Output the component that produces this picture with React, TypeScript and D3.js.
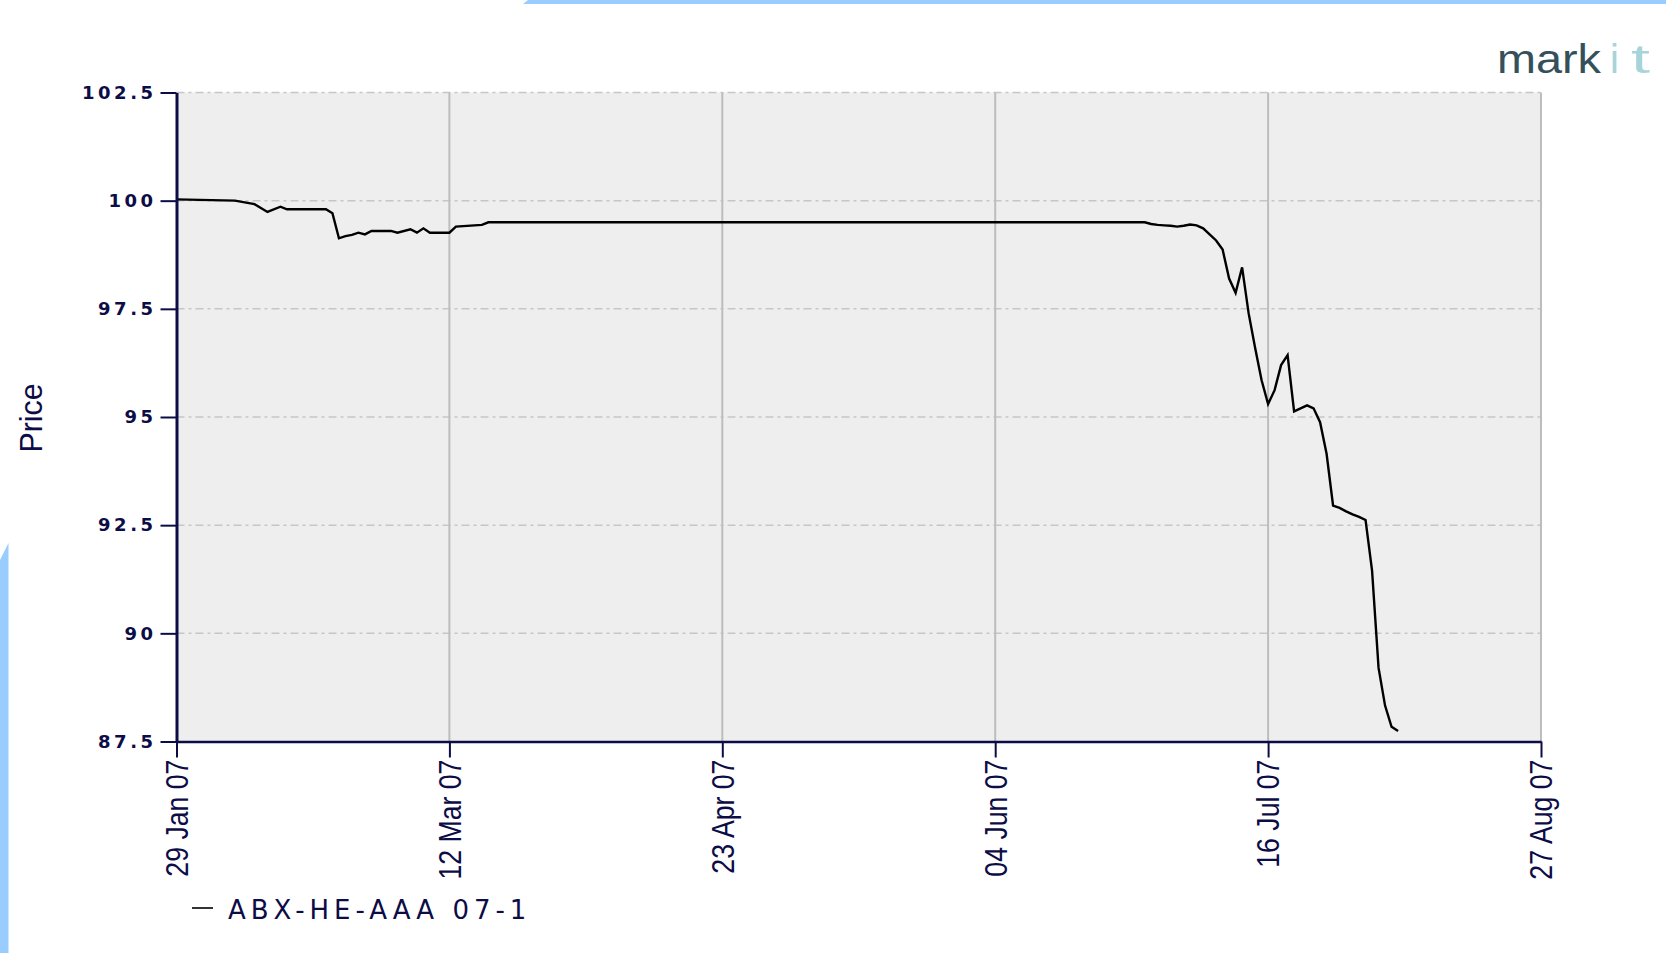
import * as d3 from "d3";
import React, { useRef, useEffect } from "react";

const seriesName = "ABX-HE-AAA 07-1";

// ABX-HE-AAA 07-1 price
const dates = [
  "2007-01-29", "2007-02-07", "2007-02-10", "2007-02-12", "2007-02-14", "2007-02-15",
  "2007-02-21", "2007-02-22", "2007-02-23", "2007-02-24", "2007-02-25", "2007-02-26",
  "2007-02-27", "2007-02-28", "2007-03-03", "2007-03-04", "2007-03-06", "2007-03-07",
  "2007-03-08", "2007-03-09", "2007-03-12", "2007-03-13", "2007-03-17", "2007-03-18",
  "2007-06-27", "2007-06-28", "2007-06-29", "2007-06-30", "2007-07-01", "2007-07-02",
  "2007-07-03", "2007-07-04", "2007-07-05", "2007-07-06", "2007-07-07", "2007-07-08",
  "2007-07-09", "2007-07-10", "2007-07-11", "2007-07-12", "2007-07-13", "2007-07-14",
  "2007-07-15", "2007-07-16", "2007-07-17", "2007-07-18", "2007-07-19", "2007-07-20",
  "2007-07-21", "2007-07-22", "2007-07-23", "2007-07-24", "2007-07-25", "2007-07-26",
  "2007-07-27", "2007-07-28", "2007-07-29", "2007-07-30", "2007-07-31", "2007-08-01",
  "2007-08-02", "2007-08-03", "2007-08-04", "2007-08-05",
];
const prices = [
  100.03, 100.0, 99.92, 99.74, 99.86, 99.8,
  99.8, 99.71, 99.13, 99.18, 99.21, 99.26,
  99.22, 99.3, 99.3, 99.26, 99.34, 99.26,
  99.36, 99.26, 99.26, 99.4, 99.44, 99.5,
  99.5, 99.46, 99.44, 99.43, 99.42, 99.4,
  99.42, 99.45, 99.43, 99.36, 99.22, 99.08,
  98.87, 98.2, 97.87, 98.46, 97.4, 96.6,
  95.85, 95.3, 95.62, 96.2, 96.43, 95.13,
  95.2, 95.27, 95.2, 94.88, 94.15, 92.95,
  92.9, 92.82, 92.75, 92.69, 92.62, 91.45,
  89.2, 88.33, 87.84, 87.74,
];

const yTicks = [87.5, 90, 92.5, 95, 97.5, 100, 102.5];
const xTicks = ["2007-01-29", "2007-03-12", "2007-04-23", "2007-06-04", "2007-07-16", "2007-08-27"];

const W = 1666;
const H = 953;
const navy = "#0c0c46";
const font = "'Liberation Sans', Arial, sans-serif";
const wide = "'DejaVu Sans', Verdana, sans-serif";

const App = () => {
  const ref = useRef<SVGSVGElement>(null);

  useEffect(() => {
    if (!ref.current) return;
    const root = d3.select(ref.current);
    root.selectAll("*").remove();

    const margin = { top: 92.5, right: 125, bottom: 211.5, left: 176.5 };
    const width = W - margin.left - margin.right;
    const height = H - margin.top - margin.bottom;

    const parse = d3.timeParse("%Y-%m-%d");
    const data = dates.map((d, i) => ({ date: parse(d) as Date, value: prices[i] }));
    const tickDates = xTicks.map((d) => parse(d) as Date);

    // blue page decorations
    root.append("polygon").attr("points", "528,0 1666,0 1666,4 523,4").attr("fill", "#99ccff");
    root.append("polygon").attr("points", "0,560 8.5,543 8.5,953 0,953").attr("fill", "#99ccff");

    // markit logo
    const logo = root.append("g").style("font-family", font).style("font-size", "40px");
    logo.append("text").attr("x", 1497).attr("y", 73).attr("textLength", 104)
      .attr("lengthAdjust", "spacingAndGlyphs").attr("fill", "#34505b").text("mark");
    logo.append("text").attr("x", 1610).attr("y", 73).attr("fill", "#a6d4d8").text("i");
    logo.append("text").attr("x", 1631).attr("y", 73).attr("textLength", 19)
      .attr("lengthAdjust", "spacingAndGlyphs").attr("fill", "#a6d4d8").text("t");

    const svg = root.append("g").attr("transform", `translate(${margin.left},${margin.top})`);

    const x = d3.scaleTime().domain([tickDates[0], tickDates[tickDates.length - 1]]).range([0, width]);
    const y = d3.scaleLinear().domain([87.5, 102.5]).range([height, 0]);

    svg.append("rect").attr("width", width).attr("height", height).attr("fill", "#eeeeee");

    // grid
    svg.selectAll(".hgrid")
      .data(yTicks.slice(1))
      .enter()
      .append("line")
      .attr("x1", 0)
      .attr("x2", width)
      .attr("y1", (d) => y(d))
      .attr("y2", (d) => y(d))
      .attr("stroke", "#c6c6c6")
      .attr("stroke-width", 1.5)
      .attr("stroke-dasharray", "8,4,3,4");

    svg.selectAll(".vgrid")
      .data(tickDates.slice(1))
      .enter()
      .append("line")
      .attr("x1", (d) => x(d))
      .attr("x2", (d) => x(d))
      .attr("y1", 0)
      .attr("y2", height)
      .attr("stroke", "#bdbdbd")
      .attr("stroke-width", 2);

    const line = d3.line<{ date: Date; value: number }>()
      .x((d) => x(d.date))
      .y((d) => y(d.value));

    svg.append("path")
      .datum(data)
      .attr("fill", "none")
      .attr("stroke", "#000")
      .attr("stroke-width", 2.4)
      .attr("d", line);

    // y axis
    const yAxis = svg.append("g")
      .call(d3.axisLeft(y).tickValues(yTicks).tickSize(16).tickSizeOuter(0).tickPadding(4).tickFormat(d3.format("")));
    yAxis.select(".domain").attr("stroke", navy).attr("stroke-width", 3);
    yAxis.selectAll(".tick line").attr("stroke", navy).attr("stroke-width", 2);
    yAxis.selectAll(".tick text")
      .attr("fill", navy)
      .style("font-family", wide)
      .style("font-size", "18px")
      .style("font-weight", "bold")
      .style("letter-spacing", "3.5px");

    // x axis
    const fmt = d3.timeFormat("%d %b %y");
    const xAxis = svg.append("g")
      .attr("transform", `translate(0,${height})`)
      .call(d3.axisBottom(x).tickValues(tickDates).tickSize(16).tickSizeOuter(0).tickFormat((d) => fmt(d as Date)));
    xAxis.select(".domain").attr("stroke", navy).attr("stroke-width", 2.5);
    xAxis.selectAll(".tick line").attr("stroke", navy).attr("stroke-width", 2);
    xAxis.selectAll(".tick text")
      .attr("fill", navy)
      .style("font-family", font)
      .style("font-size", "31px")
      .style("text-anchor", "end")
      .attr("transform", "rotate(-90) scale(0.86,1)")
      .attr("x", -21)
      .attr("y", 0)
      .attr("dy", "0.35em");

    // axis title
    root.append("text")
      .attr("transform", "translate(30,418) rotate(-90) scale(0.95,1)")
      .attr("text-anchor", "middle")
      .attr("dy", "0.36em")
      .attr("fill", navy)
      .style("font-family", font)
      .style("font-size", "32px")
      .text("Price");

    // legend
    root.append("line")
      .attr("x1", 192).attr("x2", 213).attr("y1", 908).attr("y2", 908)
      .attr("stroke", "#333").attr("stroke-width", 2);
    root.append("text")
      .attr("x", 228).attr("y", 919)
      .attr("fill", navy)
      .style("font-family", wide)
      .style("font-size", "26px")
      .style("letter-spacing", "5px")
      .text(seriesName);
  }, []);

  return (
    <div style={{ position: "absolute", left: 0, top: 0 }}>
      <svg ref={ref} width={W} height={H} style={{ display: "block", background: "#fff" }} />
    </div>
  );
};

export default App;
